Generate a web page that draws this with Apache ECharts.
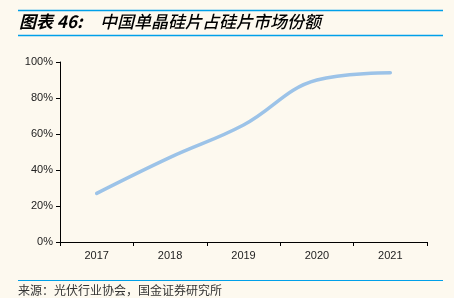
<!DOCTYPE html>
<html>
<head>
<meta charset="utf-8">
<script src="https://cdn.jsdelivr.net/npm/echarts@6/dist/echarts.min.js"></script>
<style>
  html, body { margin: 0; padding: 0; background: #fdf9ef; }
  #chart { width: 454px; height: 298px; }
</style>
</head>
<body>
<div id="chart"></div>
<script>
// 中国单晶硅片占硅片市场份额
const years = ["2017", "2018", "2019", "2020", "2021"];
const monoShare = [27, 47, 65, 90, 94];
const titleLabel = "图表 46:";
const titleText = "中国单晶硅片占硅片市场份额";
const sourceText = "来源：光伏行业协会，国金证券研究所";

const blue = "#00a0e9";
const cjk = "'Noto Sans CJK SC', sans-serif";

const chart = echarts.init(document.getElementById("chart"));

const option = {
  backgroundColor: "#fdf9ef",
  animation: false,
  grid: { left: 60, right: 27, top: 62, bottom: 56 },
  xAxis: {
    type: "category",
    data: years,
    boundaryGap: true,
    axisLine: { lineStyle: { color: "#000", width: 1 } },
    axisTick: { show: true, length: 4, lineStyle: { color: "#000" } },
    axisLabel: { color: "#222", fontSize: 11, fontFamily: "Liberation Sans, Arial", margin: 8 },
  },
  yAxis: {
    type: "value",
    min: 0,
    max: 100,
    interval: 20,
    axisLine: { show: true, lineStyle: { color: "#000", width: 1 } },
    axisTick: { show: true, length: 4, lineStyle: { color: "#000" } },
    splitLine: { show: false },
    axisLabel: {
      color: "#222",
      fontSize: 11,
      fontFamily: "Liberation Sans, Arial",
      margin: 7,
      formatter: "{value}%",
    },
  },
  series: [
    {
      type: "line",
      data: monoShare,
      smooth: 0.4,
      symbol: "none",
      lineStyle: { color: "#9cc3e8", width: 3.5, cap: "round" },
    },
  ],
  graphic: [
    {
      type: "line",
      shape: { x1: 18, y1: 10.5, x2: 443, y2: 10.5 },
      style: { stroke: blue, lineWidth: 1.5 },
    },
    {
      type: "text",
      left: 19,
      top: 13,
      style: { text: titleLabel, fill: "#000", font: "italic bold 17px " + cjk },
    },
    {
      type: "text",
      left: 100,
      top: 13,
      style: { text: titleText, fill: "#000", font: "italic 500 17px " + cjk },
    },
    {
      type: "line",
      shape: { x1: 18, y1: 35.5, x2: 443, y2: 35.5 },
      style: { stroke: blue, lineWidth: 1.5 },
    },
    {
      type: "line",
      shape: { x1: 18, y1: 280.5, x2: 443, y2: 280.5 },
      style: { stroke: blue, lineWidth: 1 },
    },
    {
      type: "text",
      left: 18,
      top: 284,
      style: { text: sourceText, fill: "#333", font: "12px " + cjk },
    },
  ],
};

chart.setOption(option);
window.addEventListener("resize", () => chart.resize());
</script>
</body>
</html>
